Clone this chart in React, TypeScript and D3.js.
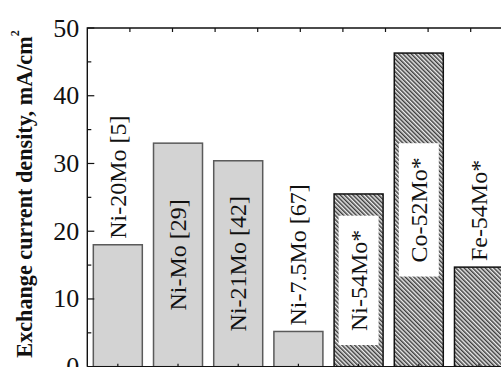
import React, { useEffect, useRef } from "react";
import * as d3 from "d3";

// Exchange current density of Mo-based alloy cathodes
const categories = [
  "Ni-20Mo [5]",
  "Ni-Mo [29]",
  "Ni-21Mo [42]",
  "Ni-7.5Mo [67]",
  "Ni-54Mo*",
  "Co-52Mo*",
  "Fe-54Mo*",
];
const values = [18.0, 33.0, 30.4, 5.2, 25.5, 46.3, 14.7];
// literature data (plain) vs. this work (hatched)
const hatched = [false, false, false, false, true, true, true];
// where each label sits: above the bar, inside it, or inside on a white box
const labelModes = ["above", "inside", "inside", "above", "box", "box", "above"];
const yTicks = [0, 10, 20, 30, 40, 50];

const W = 501;
const H = 367;
const FONT = "'Liberation Serif', 'Times New Roman', serif";

export default function App() {
  const ref = useRef<SVGSVGElement | null>(null);

  useEffect(() => {
    const svg = d3.select(ref.current);
    svg.selectAll("*").remove();

    const left = 87.3;
    const top = 28;
    const bottom = 366.7;
    const right = 509.5;

    const y = d3.scaleLinear().domain([0, 50]).range([bottom, top]);
    const x = d3
      .scaleBand<string>()
      .domain(categories)
      .range([left, right])
      .paddingInner(0.186)
      .paddingOuter(0.1);

    const defs = svg.append("defs");
    const pat = defs
      .append("pattern")
      .attr("id", "hatch")
      .attr("patternUnits", "userSpaceOnUse")
      .attr("width", 3)
      .attr("height", 3)
      .attr("patternTransform", "rotate(-45)");
    pat.append("rect").attr("width", 3).attr("height", 3).attr("fill", "#ececec");
    pat
      .append("line")
      .attr("x1", 0.75)
      .attr("y1", -1)
      .attr("x2", 0.75)
      .attr("y2", 5)
      .attr("stroke", "#333")
      .attr("stroke-width", 1.4);

    const data = categories.map((c, i) => ({
      c,
      v: values[i],
      h: hatched[i],
      mode: labelModes[i],
    }));

    // bars
    svg
      .append("g")
      .selectAll("rect")
      .data(data)
      .join("rect")
      .attr("x", (d) => x(d.c)!)
      .attr("y", (d) => y(d.v))
      .attr("width", x.bandwidth())
      .attr("height", (d) => y(0) - y(d.v))
      .attr("fill", (d) => (d.h ? "url(#hatch)" : "#d3d3d3"))
      .attr("stroke", (d) => (d.h ? "#111" : "#5a5a5a"))
      .attr("stroke-width", 1.5);

    // bar labels
    const lg = svg.append("g");
    data.forEach((d) => {
      const cx = x(d.c)! + x.bandwidth() / 2;
      const g = lg.append("g");
      const t = g
        .append("text")
        .attr("font-family", FONT)
        .attr("font-size", 24)
        .attr("fill", "#111")
        .attr("dominant-baseline", "central")
        .text(d.c);
      if (d.mode === "above") {
        t.attr("text-anchor", "start").attr(
          "transform",
          `translate(${cx},${y(d.v) - 6}) rotate(-90)`
        );
      } else {
        const cy = (y(d.v) + y(0)) / 2;
        t.attr("text-anchor", "middle").attr(
          "transform",
          `translate(${cx},${cy}) rotate(-90)`
        );
        if (d.mode === "box") {
          const len = (t.node() as SVGTextElement).getComputedTextLength();
          const bw = 40;
          const bh = len + 28;
          g.insert("rect", "text")
            .attr("x", cx - bw / 2)
            .attr("y", cy - bh / 2)
            .attr("width", bw)
            .attr("height", bh)
            .attr("fill", "#fff");
        }
      }
    });

    // frame
    svg
      .append("path")
      .attr("d", `M${left},${bottom}V${top}H${W + 20}M${left},${bottom}H${W + 20}`)
      .attr("fill", "none")
      .attr("stroke", "#111")
      .attr("stroke-width", 1.4);

    // y axis ticks (inward)
    const yg = svg.append("g");
    const minor = d3.range(5, 50, 10);
    yg.selectAll("line.maj")
      .data(yTicks)
      .join("line")
      .attr("x1", left)
      .attr("x2", left + 7)
      .attr("y1", (d) => y(d))
      .attr("y2", (d) => y(d))
      .attr("stroke", "#111")
      .attr("stroke-width", 1.2);
    yg.selectAll("line.min")
      .data(minor)
      .join("line")
      .attr("x1", left)
      .attr("x2", left + 4)
      .attr("y1", (d) => y(d))
      .attr("y2", (d) => y(d))
      .attr("stroke", "#111")
      .attr("stroke-width", 1.2);
    yg.selectAll("text")
      .data(yTicks)
      .join("text")
      .attr("x", left - 8)
      .attr("y", (d) => y(d))
      .attr("text-anchor", "end")
      .attr("dominant-baseline", "central")
      .attr("font-family", FONT)
      .attr("font-size", 26)
      .attr("fill", "#111")
      .text((d) => String(d));

    // top axis minor ticks
    const xt = d3.scaleLinear().domain([0, 10]).range([left, left + 426]);
    svg
      .append("g")
      .selectAll("line")
      .data(d3.range(1, 10))
      .join("line")
      .attr("x1", (d) => xt(d))
      .attr("x2", (d) => xt(d))
      .attr("y1", top)
      .attr("y2", top + 4)
      .attr("stroke", "#111")
      .attr("stroke-width", 1.2);

    // bottom ticks at category centres
    svg
      .append("g")
      .selectAll("line")
      .data(categories)
      .join("line")
      .attr("x1", (d) => x(d)! + x.bandwidth() / 2)
      .attr("x2", (d) => x(d)! + x.bandwidth() / 2)
      .attr("y1", bottom)
      .attr("y2", bottom - 3)
      .attr("stroke", "#111")
      .attr("stroke-width", 1.2);

    // y axis title
    const title = svg
      .append("text")
      .attr("transform", `translate(24,194) rotate(-90)`)
      .attr("text-anchor", "middle")
      .attr("dominant-baseline", "central")
      .attr("font-family", FONT)
      .attr("font-weight", "bold")
      .attr("font-size", 22.2)
      .attr("fill", "#111");
    title.append("tspan").text("Exchange current density, mA/cm");
    title
      .append("tspan")
      .attr("font-size", 12)
      .attr("dy", -9)
      .text("2");
  }, []);

  return (
    <svg
      ref={ref}
      width={W}
      height={H}
      style={{ position: "absolute", left: 0, top: 0, background: "#fff" }}
    />
  );
}
